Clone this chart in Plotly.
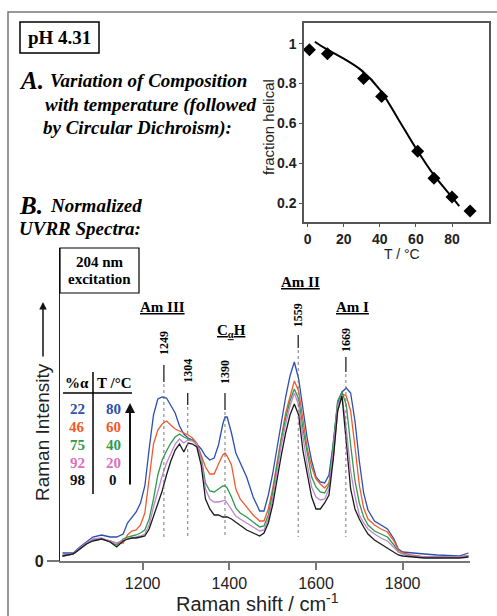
import plotly.graph_objects as go

W, H = 497, 616


def px(x):
    return x / W


def py(y):
    return 1 - y / H


# ---------------- data ----------------
# Inset A: CD-derived fraction helical vs temperature
cd_temp = [1, 11, 31, 41, 61, 70, 80, 90]
cd_frac = [0.97, 0.95, 0.825, 0.735, 0.46, 0.325, 0.23, 0.16]
fit_temp = [4, 10, 20, 30, 40, 50, 60, 70, 80, 84]
fit_frac = [1.01, 0.975, 0.925, 0.865, 0.77, 0.625, 0.475, 0.34, 0.23, 0.185]

# Panel B: normalized UVRR spectra (arbitrary units)
wavenumber = [1015, 1040, 1055, 1070, 1085, 1105, 1125, 1140, 1155, 1165, 1175, 1185, 1195, 1205,
              1215, 1225, 1235, 1245, 1255, 1265, 1275, 1285, 1295, 1305, 1315, 1325, 1335, 1345,
              1355, 1365, 1375, 1385, 1390, 1395, 1405, 1415, 1425, 1440, 1455, 1470, 1480, 1490,
              1500, 1510, 1520, 1530, 1540, 1550, 1560, 1570, 1580, 1590, 1600, 1610, 1620, 1630,
              1640, 1650, 1660, 1670, 1680, 1690, 1700, 1710, 1720, 1735, 1750, 1765, 1780, 1790,
              1800, 1820, 1850, 1880, 1910, 1930, 1952]
int_80C = [8, 8, 14, 19, 24, 26, 24, 24, 27, 38, 44, 49, 58, 75,
           112, 146, 162, 164, 163, 156, 148, 135, 127, 123, 121, 117, 112, 105,
           101, 103, 116, 137, 144, 144, 128, 108, 98, 84, 64, 50, 50, 66,
           87, 113, 139, 164, 185, 199, 182, 150, 122, 100, 84, 79, 78, 86,
           118, 158, 169, 173, 168, 140, 100, 68, 51, 40, 36, 32, 22, 12,
           9, 8, 7, 6, 5, 5, 8]
int_60C = [5, 7, 12, 17, 21, 22, 20, 18, 18, 26, 30, 31, 36, 48,
           82, 117, 131, 137, 140, 136, 132, 130, 128, 126, 123, 118, 106, 94,
           87, 87, 97, 106, 108, 105, 96, 72, 62, 54, 46, 40, 40, 52,
           72, 98, 124, 148, 164, 180, 170, 140, 112, 94, 82, 77, 73, 78,
           103, 150, 167, 165, 150, 114, 76, 53, 42, 36, 32, 29, 20, 11,
           8, 6, 4, 4, 4, 4, 5]
int_40C = [5, 7, 12, 17, 21, 22, 19, 16, 22, 24, 25, 26, 28, 31,
           42, 62, 86, 101, 110, 118, 124, 127, 124, 122, 121, 116, 104, 78,
           70, 69, 72, 75, 75, 73, 64, 53, 48, 44, 39, 34, 35, 46,
           68, 96, 122, 143, 160, 172, 162, 132, 106, 84, 74, 69, 68, 76,
           118, 160, 169, 156, 116, 80, 58, 44, 36, 30, 27, 24, 16, 9,
           7, 5, 4, 4, 4, 4, 5]
int_20C = [6, 7, 13, 18, 22, 23, 20, 18, 21, 22, 23, 24, 25, 27,
           36, 54, 71, 85, 98, 108, 117, 122, 118, 121, 120, 117, 102, 72,
           62, 59, 59, 60, 61, 58, 52, 45, 42, 38, 34, 30, 31, 42,
           62, 90, 116, 137, 155, 168, 156, 124, 96, 74, 64, 61, 62, 72,
           110, 155, 166, 132, 90, 65, 46, 38, 32, 27, 23, 20, 14, 9,
           7, 5, 4, 4, 4, 4, 5]
int_0C = [5, 7, 12, 17, 20, 22, 19, 14, 20, 22, 23, 23, 24, 25,
          32, 44, 58, 70, 86, 100, 111, 117, 109, 118, 117, 114, 96, 62,
          52, 46, 46, 44, 44, 44, 42, 39, 36, 31, 28, 25, 28, 38,
          56, 82, 106, 128, 146, 157, 146, 110, 86, 64, 52, 52, 58, 66,
          102, 150, 165, 120, 72, 52, 42, 34, 27, 21, 17, 13, 9, 6,
          5, 4, 3, 3, 3, 3, 4]

series_temp = ["80", "60", "40", "20", "0"]
series_pct = ["22", "46", "75", "92", "98"]
series_vals = [int_80C, int_60C, int_40C, int_20C, int_0C]
line_colors = ["#2d4fae", "#f25a2b", "#2e9a4c", "#c184cf", "#1a1a1a"]
text_colors = ["#2d4fae", "#f25a2b", "#2e9a4c", "#dd6fc0", "#111111"]

peaks = [1249, 1304, 1390, 1559, 1669]
peak_labels = ["1249", "1304", "1390", "1559", "1669"]
x_ticks = [1200, 1400, 1600, 1800]
cd_x_ticks = [0, 20, 40, 60, 80]
cd_y_ticks = [0.2, 0.4, 0.6, 0.8, 1.0]
cd_y_ticktext = ["0.2", "0.4", "0.6", "0.8", "1"]

# ---------------- figure ----------------
fig = go.Figure()

for vals, col, t in zip(series_vals, line_colors, series_temp):
    fig.add_trace(go.Scatter(x=wavenumber, y=vals, mode="lines",
                             line=dict(color=col, width=1.3), name=t + " °C",
                             xaxis="x", yaxis="y"))

fig.add_trace(go.Scatter(x=fit_temp, y=fit_frac, mode="lines",
                         line=dict(color="black", width=2, shape="spline"),
                         xaxis="x2", yaxis="y2"))
fig.add_trace(go.Scatter(x=cd_temp, y=cd_frac, mode="markers",
                         marker=dict(symbol="diamond", size=10, color="black"),
                         xaxis="x2", yaxis="y2"))

# main axes geometry (pixels)
ax_l, ax_r, ax_b, ax_t = 60, 470, 561, 248
nu_per_px = 1 / 0.4333
x_range = [1000 + (ax_l - 56) * nu_per_px, 1000 + (ax_r - 56) * nu_per_px]

ARIAL = "Liberation Sans, Arial, sans-serif"
SERIF = "Liberation Serif, Times New Roman, serif"

fig.update_layout(
    width=W, height=H,
    margin=dict(l=0, r=0, t=0, b=0, pad=0, autoexpand=False),
    paper_bgcolor="white", plot_bgcolor="white",
    showlegend=False,
    xaxis=dict(domain=[px(ax_l), px(ax_r)], range=x_range, anchor="y",
               showline=True, linecolor="#777", linewidth=2,
               ticks="outside", ticklen=7, tickcolor="#777", tickwidth=1.5,
               tickvals=x_ticks, showgrid=False, zeroline=False,
               tickfont=dict(family=ARIAL, size=16, color="#222")),
    yaxis=dict(domain=[py(ax_b), py(ax_t)], range=[0, ax_b - ax_t], anchor="x",
               showline=True, linecolor="#222", linewidth=1.2,
               ticks="outside", ticklen=12, tickcolor="#777", tickwidth=1.5,
               tickvals=[0], ticktext=["<b>0</b>"], showgrid=False, zeroline=False,
               tickfont=dict(family=ARIAL, size=16, color="#222")),
    xaxis2=dict(domain=[px(304), px(489)], range=[-2, 100.5], anchor="y2",
                showline=True, mirror=True, linecolor="#555", linewidth=1.5,
                ticks="outside", ticklen=3, tickcolor="#555",
                tickvals=cd_x_ticks, ticktext=["<b>%d</b>" % v for v in cd_x_ticks],
                showgrid=False, zeroline=False,
                tickfont=dict(family=ARIAL, size=14, color="#222")),
    yaxis2=dict(domain=[py(222), py(23)], range=[0.105, 1.104], anchor="x2",
                showline=True, mirror=True, linecolor="#555", linewidth=1.5,
                ticks="outside", ticklen=3, tickcolor="#555",
                tickvals=cd_y_ticks, ticktext=["<b>%s</b>" % t for t in cd_y_ticktext],
                showgrid=False, zeroline=False,
                tickfont=dict(family=ARIAL, size=14, color="#222")),
)

shapes = []
annos = []


def rect(x0, y0, x1, y1, color="black", width=1.5):
    shapes.append(dict(type="rect", xref="paper", yref="paper",
                       x0=px(x0), x1=px(x1), y0=py(y0), y1=py(y1),
                       line=dict(color=color, width=width)))


def pline(x0, y0, x1, y1, color="black", width=1.5, dash="solid"):
    shapes.append(dict(type="line", xref="paper", yref="paper",
                       x0=px(x0), x1=px(x1), y0=py(y0), y1=py(y1),
                       line=dict(color=color, width=width, dash=dash)))


def text(x, y, s, size=15, family=SERIF, color="black", xanchor="center", angle=0):
    annos.append(dict(xref="paper", yref="paper", x=px(x), y=py(y), text=s,
                      showarrow=False, xanchor=xanchor, yanchor="middle",
                      textangle=angle,
                      font=dict(family=family, size=size, color=color)))


# outer frame
rect(8, 12, 520, 640, color="#777", width=1.5)
# pH box
rect(20, 22, 99, 53)
text(59, 38, "<b>pH 4.31</b>", size=19)

# Panel A text
text(17, 80, "<b><i>A.</i></b>", size=25, xanchor="left")
text(48, 80, "<b><i>Variation of Composition</i></b>", size=19, xanchor="left")
text(43, 105, "<b><i>with temperature (followed</i></b>", size=19, xanchor="left")
text(41, 128, "<b><i>by Circular Dichroism):</i></b>", size=19, xanchor="left")

# Panel B text
text(17, 205, "<b><i>B.</i></b>", size=25, xanchor="left")
text(48, 205, "<b><i>Normalized</i></b>", size=19, xanchor="left")
text(17, 229, "<b><i>UVRR Spectra:</i></b>", size=19, xanchor="left")

# inset axis titles
text(268, 127, "fraction helical", size=15, family=ARIAL, color="#222", angle=-90)
text(402, 254, "T / °C", size=14, family=ARIAL, color="#222")

# 204 nm excitation box
rect(60, 248, 139, 293, width=1.2)
text(99.5, 262, "<b>204 nm</b>", size=15)
text(99.5, 279, "<b>excitation</b>", size=15)

# main axis titles
text(42, 432, "Raman Intensity", size=19, family=ARIAL, color="#222", angle=-90)
annos.append(dict(xref="paper", yref="paper", x=px(43), y=py(302), ax=0, ay=56,
                  axref="pixel", ayref="pixel", text="", showarrow=True,
                  arrowhead=2, arrowsize=1, arrowwidth=1.5, arrowcolor="#111"))
text(257, 602, "Raman shift / cm<sup>-1</sup>", size=20, family=ARIAL, color="#222")

# band group labels
text(162, 307, "<b><u>Am III</u></b>", size=15)
text(231, 331, "<b><u>C<sub>α</sub>H</u></b>", size=15)
text(300, 282, "<b><u>Am II</u></b>", size=15)
text(352, 307, "<b><u>Am I</u></b>", size=15)

# peak markers: label, dash, dotted line
label_y = [343, 371, 372, 315, 340]
dash_y = [(365, 382), (393, 405), (393, 410), (335, 348), (357, 372)]
for pk, lab, ly, (d0, d1) in zip(peaks, peak_labels, label_y, dash_y):
    text(56 + (pk - 1000) * 0.4333, ly, "<b>%s</b>" % lab, size=12, angle=-90)
    shapes.append(dict(type="line", xref="x", yref="paper", x0=pk, x1=pk,
                       y0=py(d0), y1=py(d1), line=dict(color="#222", width=1.3)))
    shapes.append(dict(type="line", xref="x", yref="paper", x0=pk, x1=pk,
                       y0=py(d1 + 2), y1=py(537), line=dict(color="#777", width=1, dash="dot")))

# legend table
text(77, 383, "<b>%α</b>", size=15)
text(114, 383, "<b>T /°C</b>", size=15)
pline(63, 393, 132, 393, width=1.5)
pline(93, 372, 93, 494, width=1.5)
row_y = [409, 427, 445, 463, 480]
for ry, pct, t, c in zip(row_y, series_pct, series_temp, text_colors):
    text(77, ry, "<b>%s</b>" % pct, size=15, color=c)
    text(113, ry, "<b>%s</b>" % t, size=15, color=c)
annos.append(dict(xref="paper", yref="paper", x=px(130), y=py(403), ax=0, ay=83,
                  axref="pixel", ayref="pixel", text="", showarrow=True,
                  arrowhead=2, arrowsize=1, arrowwidth=2, arrowcolor="#111"))

fig.update_layout(shapes=shapes, annotations=annos)
fig.write_html("out.html", config={"displayModeBar": False},
               post_script="document.body.style.margin='0px';document.body.style.overflow='hidden';")
